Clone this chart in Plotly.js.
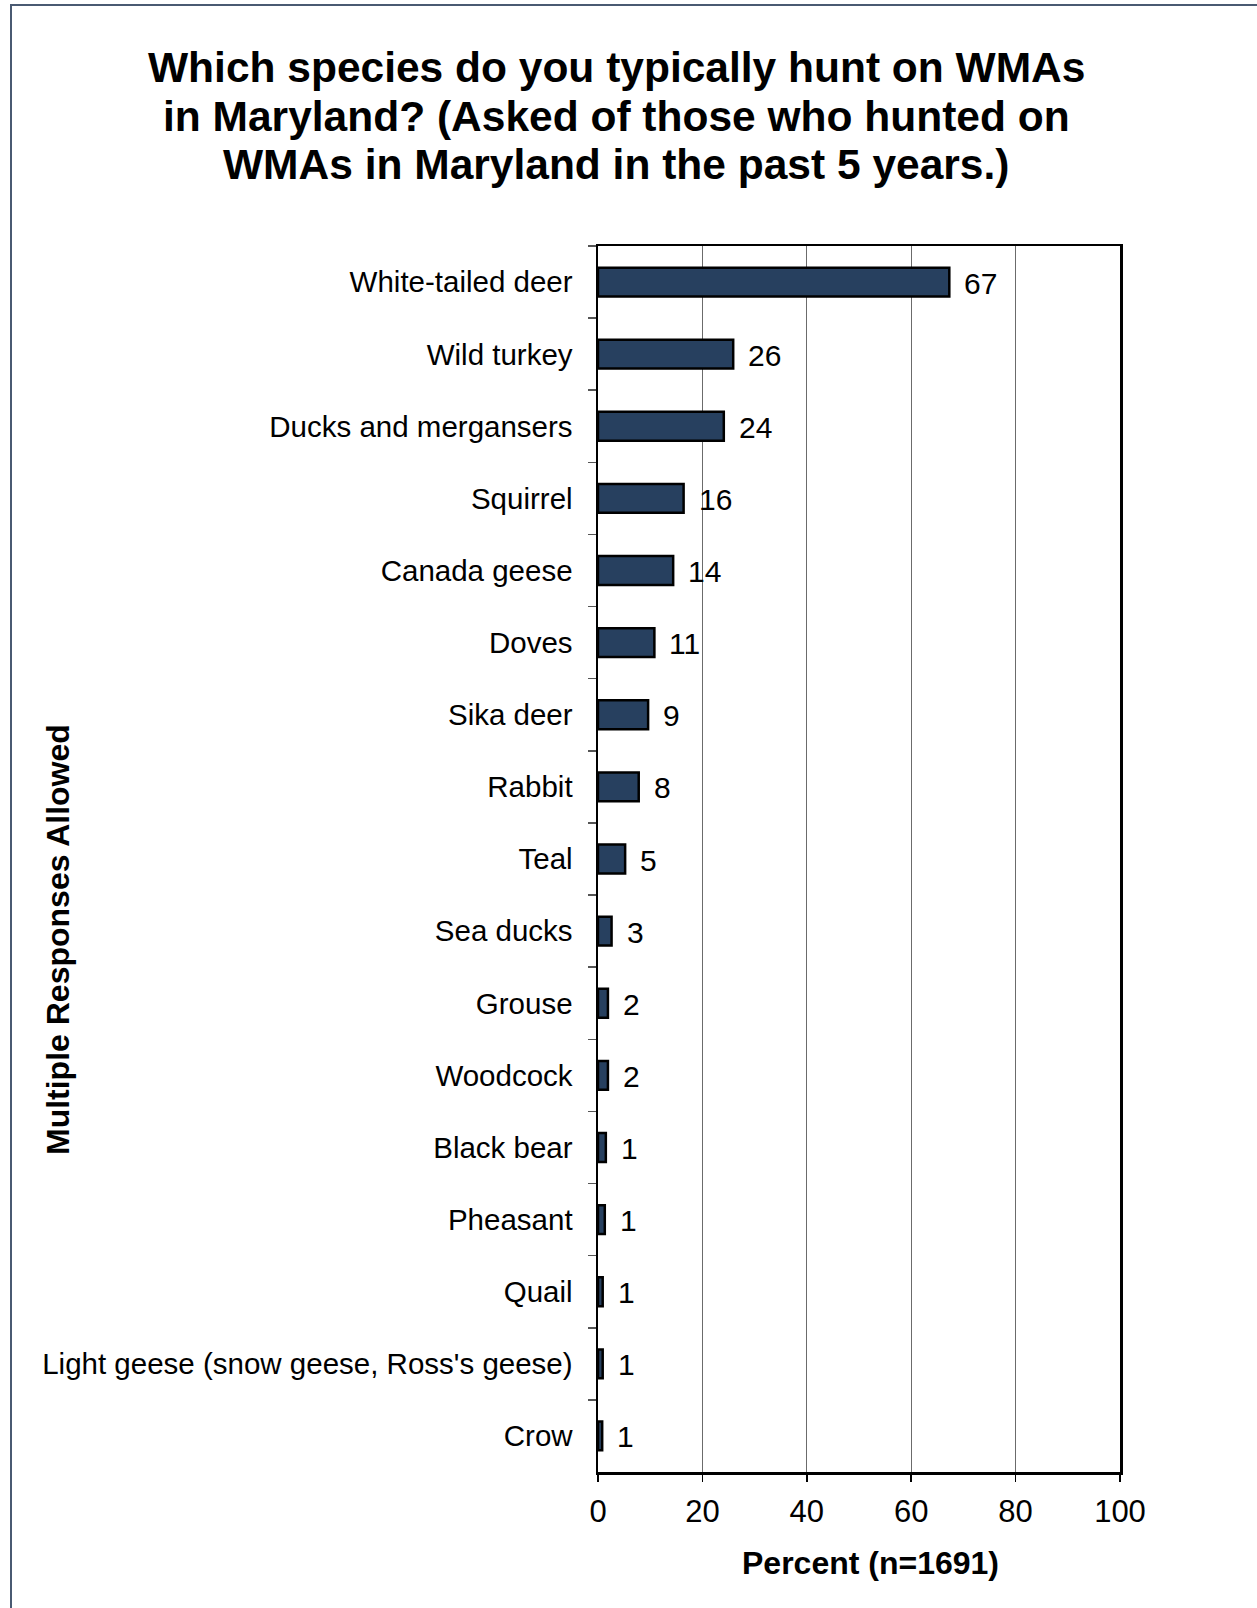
<!DOCTYPE html>
<html>
<head>
<meta charset="utf-8">
<script src="https://cdn.plot.ly/plotly-3.0.1.min.js"></script>
<style>
  html, body { margin: 0; padding: 0; background: #ffffff; }
  #wrap { position: relative; width: 1257px; height: 1608px; }
  #chart { position: absolute; left: 0; top: 0; width: 1257px; height: 1608px; }
  #frame { position: absolute; left: 10px; top: 4px; width: 1260px; height: 1620px;
           border-left: 2px solid #4A5A72; border-top: 2px solid #4A5A72; pointer-events: none; }
</style>
</head>
<body>
<div id="wrap">
  <div id="chart"></div>
  <div id="frame"></div>
</div>
<script>
// ---- data ----
const categories = [
  "White-tailed deer",
  "Wild turkey",
  "Ducks and mergansers",
  "Squirrel",
  "Canada geese",
  "Doves",
  "Sika deer",
  "Rabbit",
  "Teal",
  "Sea ducks",
  "Grouse",
  "Woodcock",
  "Black bear",
  "Pheasant",
  "Quail",
  "Light geese (snow geese, Ross's geese)",
  "Crow"
];
const percents = [67, 26, 24, 16, 14, 11, 9, 8, 5, 3, 2, 2, 1, 1, 1, 1, 1];
// bar lengths as drawn (slightly finer than the rounded labels)
const barLengths = [67.3, 25.9, 24.1, 16.4, 14.4, 10.8, 9.6, 7.8, 5.2, 2.6, 1.9, 1.9, 1.5, 1.3, 0.9, 0.9, 0.8];
const xTickVals = [0, 20, 40, 60, 80, 100];
const titleLines = [
  "Which species do you typically hunt on WMAs",
  "in Maryland? (Asked of those who hunted on",
  "WMAs in Maryland in the past 5 years.)"
];
const xTitle = "Percent (n=1691)";
const yTitle = "Multiple Responses Allowed";

// ---- layout geometry (pixels) ----
const PW = 1257, PH = 1608;
const L = 597.5, R = 1120, T = 246, B = 1472;
const W = R - L, H = B - T;
const px2x = p => (p - L) / W;
const px2y = p => (B - p) / H;

const FONT = "Arial, 'Liberation Sans', Helvetica, sans-serif";
const barColor = "#27405F";

const trace = {
  type: "bar",
  orientation: "h",
  x: barLengths,
  y: categories,
  marker: { color: barColor, line: { color: "#000000", width: 2.5 } },
  width: 0.4,
  hoverinfo: "skip",
  cliponaxis: false
};

const annotations = [];
categories.forEach((c, i) => {
  annotations.push({
    x: barLengths[i], y: c, xref: "x", yref: "y",
    text: String(percents[i]),
    showarrow: false, xanchor: "left", yanchor: "middle",
    xshift: 13, yshift: -1,
    font: { family: FONT, size: 30, color: "#000000" }
  });
});

const titleCenters = [68, 116.5, 165];
titleLines.forEach((t, i) => {
  annotations.push({
    x: px2x(616), xref: "paper", y: px2y(titleCenters[i]), yref: "paper",
    text: "<b>" + t + "</b>", showarrow: false,
    xanchor: "center", yanchor: "middle",
    font: { family: FONT, size: 42.5, color: "#000000" }
  });
});

annotations.push({
  x: px2x(870), y: px2y(1563), xref: "paper", yref: "paper",
  text: "<b>" + xTitle + "</b>", showarrow: false,
  xanchor: "center", yanchor: "middle",
  font: { family: FONT, size: 32, color: "#000000" }
});
annotations.push({
  x: px2x(57), y: px2y(940), xref: "paper", yref: "paper",
  text: "<b>" + yTitle + "</b>", showarrow: false, textangle: -90,
  xanchor: "center", yanchor: "middle",
  font: { family: FONT, size: 32, color: "#000000" }
});

const layout = {
  width: PW, height: PH,
  margin: { l: L, r: PW - R, t: T, b: PH - B, pad: 0 },
  paper_bgcolor: "#ffffff",
  plot_bgcolor: "#ffffff",
  showlegend: false,
  font: { family: FONT, size: 29, color: "#000000" },
  bargap: 0.6,
  xaxis: {
    range: [0, 100],
    tickvals: xTickVals,
    ticktext: xTickVals.map(String),
    ticks: "outside", ticklen: 7, tickwidth: 1.5, tickcolor: "#000000",
    showgrid: true, gridcolor: "#6b6b6b", gridwidth: 1.2,
    showline: true, linecolor: "#000000", linewidth: 2.5, mirror: true,
    zeroline: false,
    tickfont: { family: FONT, size: 31, color: "#000000" },
    ticklabelstandoff: 3,
    fixedrange: true
  },
  yaxis: {
    type: "category",
    categoryorder: "array", categoryarray: categories,
    autorange: "reversed",
    ticks: "outside", ticklen: 8, tickwidth: 1.5, tickcolor: "#555555",
    tickson: "boundaries",
    showgrid: false,
    showline: true, linecolor: "#000000", linewidth: 2.5, mirror: true,
    zeroline: false,
    tickfont: { family: FONT, size: 29.5, color: "#000000" },
    ticklabelstandoff: 17,
    fixedrange: true
  },
  annotations: annotations
};

Plotly.newPlot("chart", [trace], layout, { staticPlot: true, displayModeBar: false });
</script>
</body>
</html>
